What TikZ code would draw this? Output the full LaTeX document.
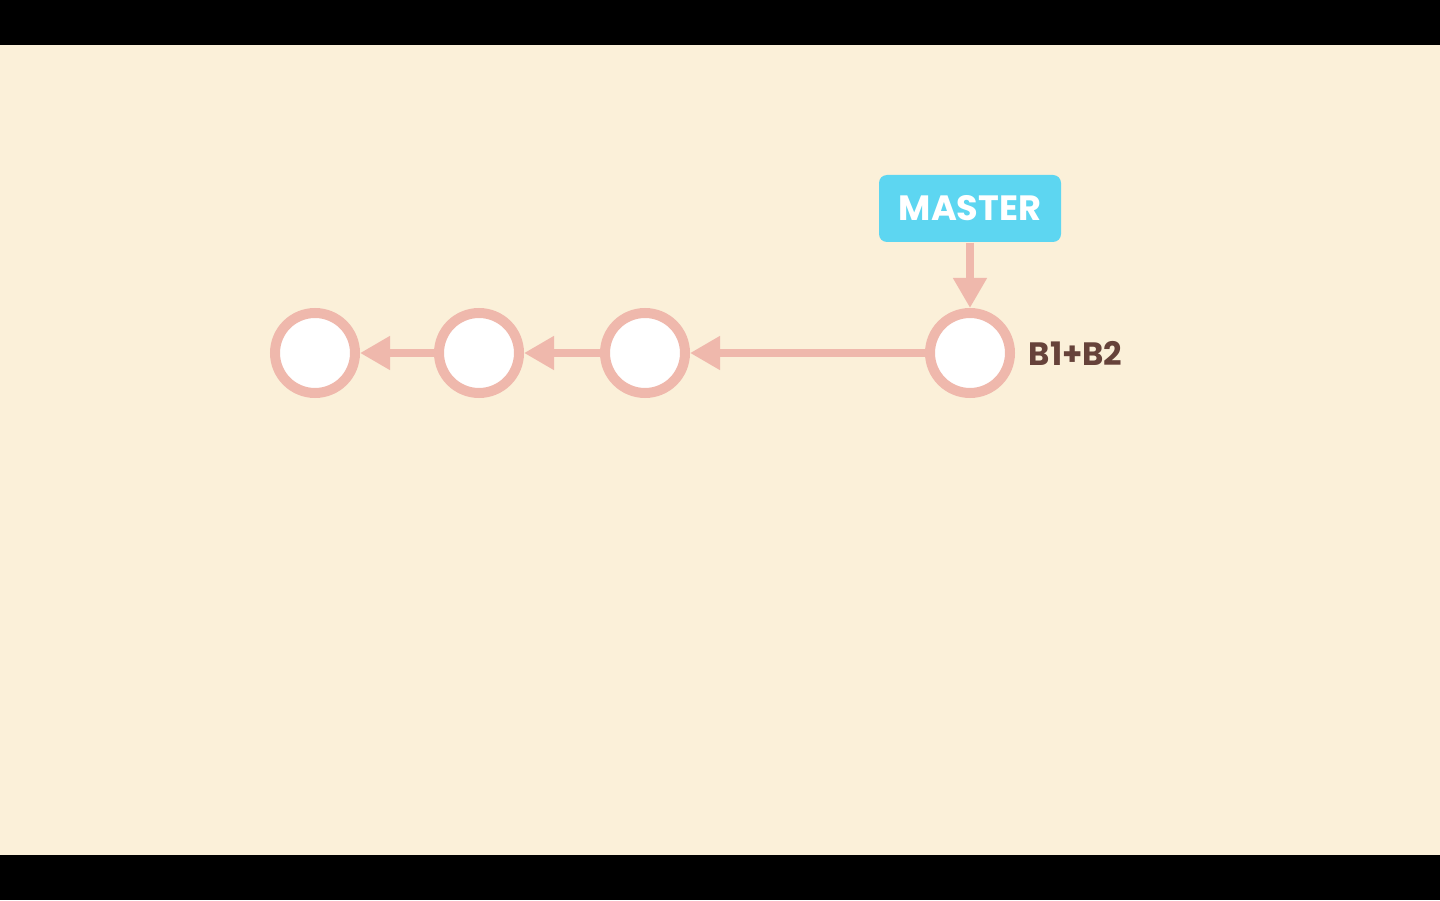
\documentclass[tikz,border=0pt]{standalone}
\usepackage{fontspec}
\setmainfont{Poppins}
\usetikzlibrary{arrows.meta}
\definecolor{bg}{HTML}{FBF0D9}
\definecolor{ring}{HTML}{EFB8AC}
\definecolor{sky}{HTML}{5DD6F1}
\definecolor{brown}{HTML}{66423A}
\tikzset{
  commit/.style={circle, draw=ring, fill=white, line width=0.1cm, minimum size=0.8cm, inner sep=0pt},
  arr/.style={draw=ring, line width=0.08cm, -{Triangle[length=0.3cm, width=0.32cm]}},
  branchbox/.style={fill=sky, rounded corners=0.08cm, minimum width=1.82cm, minimum height=0.67cm, inner sep=0pt, text=white, font=\bfseries\fontsize{10pt}{12pt}\selectfont},
  lbl/.style={text=brown, font=\bfseries\fontsize{9.2pt}{12pt}\selectfont, inner sep=0pt}
}
\begin{document}
\begin{tikzpicture}
\useasboundingbox (0,0) rectangle (14.4,9);
\fill[black] (0,0) rectangle (14.4,9);
\fill[bg] (0,0.45) rectangle (14.4,8.55);
\node[commit] (c1) at (3.15,5.47) {};
\node[commit] (c2) at (4.79,5.47) {};
\node[commit] (c3) at (6.45,5.47) {};
\node[commit] (c4) at (9.70,5.47) {};
\node[branchbox] (master) at (9.70,6.915) {MASTER};
\node[lbl, anchor=west] (b) at (10.28,5.47) {B1+B2};
\draw[arr] (c2) -- (c1);
\draw[arr] (c3) -- (c2);
\draw[arr] (c4) -- (c3);
\draw[arr] (master) -- (c4);
\end{tikzpicture}
\end{document}
